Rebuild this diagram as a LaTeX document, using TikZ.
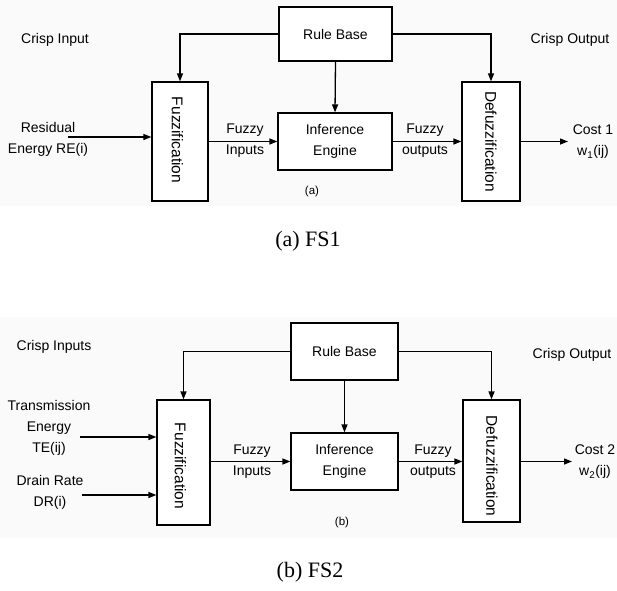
\documentclass[tikz,border=0pt]{standalone}
\usepackage{fontspec}
\setmainfont{Liberation Sans}
\newfontfamily\capfont{Liberation Serif}
\usetikzlibrary{arrows.meta}
\begin{document}
\begin{tikzpicture}[x=1pt,y=-1pt,
  box/.style={draw=black,line width=1.2pt,inner sep=0pt,fill=white},
  lbl/.style={align=center,inner sep=0pt,font=\fontsize{14}{21}\selectfont},
  rot/.style={rotate=-90,inner sep=0pt,font=\fontsize{15.5}{17}\selectfont},
  arr/.style={line width=1.3pt,-{Triangle[length=8pt,width=6pt]}},
  captext/.style={inner sep=0pt,font=\capfont\fontsize{22}{24}\selectfont},
  sub/.style={inner sep=0pt,font=\fontsize{11.5}{13}\selectfont}]
\useasboundingbox (0,0) rectangle (617,590);
\fill[black!2] (0,0) rectangle (617,206);
\fill[black!2] (0,317) rectangle (617,538);

% ---------- (a) ----------
\node[box,minimum width=113pt,minimum height=54pt] (rb1) at (335.5,34) {};
\node[lbl] at (rb1) {Rule Base};
\node[box,minimum width=56pt,minimum height=119pt] (fz1) at (180,141.5) {};
\node[rot] at (177.5,140) {Fuzzification};
\node[box,minimum width=58pt,minimum height=119pt] (df1) at (491,141.5) {};
\node[rot] at (491,141.5) {Defuzzification};
\node[box,minimum width=114pt,minimum height=57pt] (ie1) at (335,141.5) {};
\node[lbl] at (ie1) {Inference\\Engine};

\coordinate (in1) at (68,137);
\coordinate (out1) at (568,141.5);
\draw[arr] (rb1.west) -| (fz1.north);
\draw[arr] (rb1.east) -| (df1.north);
\draw[arr] (rb1.south) -- (ie1.north);
\draw[arr] (in1) -- (in1 -| fz1.west);
\draw[arr] (fz1.east) -- (ie1.west);
\draw[arr] (ie1.east) -- (df1.west);
\draw[arr] (df1.east) -- (out1);

\node[lbl] (ci1) at (55,40) {Crisp Input};
\node[lbl] (re1) at (48,139) {Residual\\Energy RE(i)};
\node[lbl] (fi1) at (245,141) {Fuzzy\\Inputs};
\node[lbl] (fo1) at (425,141) {Fuzzy\\outputs};
\node[lbl] (co1) at (570,40) {Crisp Output};
\node[lbl] (c1) at (593,142) {Cost 1\\w\textsubscript{1}(ij)};
\node[sub] (la) at (312,192) {(a)};
\node[captext] (ca) at (308,241) {(a) FS1};

% ---------- (b) ----------
\node[box,minimum width=107pt,minimum height=57pt] (rb2) at (344.5,351.5) {};
\node[lbl] at (rb2) {Rule Base};
\node[box,minimum width=53pt,minimum height=125pt] (fz2) at (183.5,462.5) {};
\node[rot] at (180.5,466) {Fuzzification};
\node[box,minimum width=57pt,minimum height=122pt] (df2) at (491.5,461) {};
\node[rot] at (492,466) {Defuzzification};
\node[box,minimum width=107pt,minimum height=57pt] (ie2) at (344.5,461.5) {};
\node[lbl] at (ie2) {Inference\\Engine};

\coordinate (in2) at (80,437);
\coordinate (in3) at (82,495);
\coordinate (out2) at (572,461.5);
\draw[arr] (rb2.west) -| (fz2.north);
\draw[arr] (rb2.east) -| (df2.north);
\draw[arr] (rb2.south) -- (ie2.north);
\draw[arr] (in2) -- (in2 -| fz2.west);
\draw[arr] (in3) -- (in3 -| fz2.west);
\draw[arr] (fz2.east |- ie2.west) -- (ie2.west);
\draw[arr] (ie2.east) -- (ie2.east -| df2.west);
\draw[arr] (df2.east |- out2) -- (out2);

\node[lbl] (ci2) at (54,347) {Crisp Inputs};
\node[lbl] (te2) at (49,428) {Transmission\\Energy\\TE(ij)};
\node[lbl] (dr2) at (50,492) {Drain Rate\\DR(i)};
\node[lbl] (fi2) at (252,462) {Fuzzy\\Inputs};
\node[lbl] (fo2) at (433,462) {Fuzzy\\outputs};
\node[lbl] (co2) at (572,355) {Crisp Output};
\node[lbl] (c2) at (595,462) {Cost 2\\w\textsubscript{2}(ij)};
\node[sub] (lb) at (342,523) {(b)};
\node[captext] (cb) at (310,572) {(b) FS2};
\end{tikzpicture}
\end{document}
